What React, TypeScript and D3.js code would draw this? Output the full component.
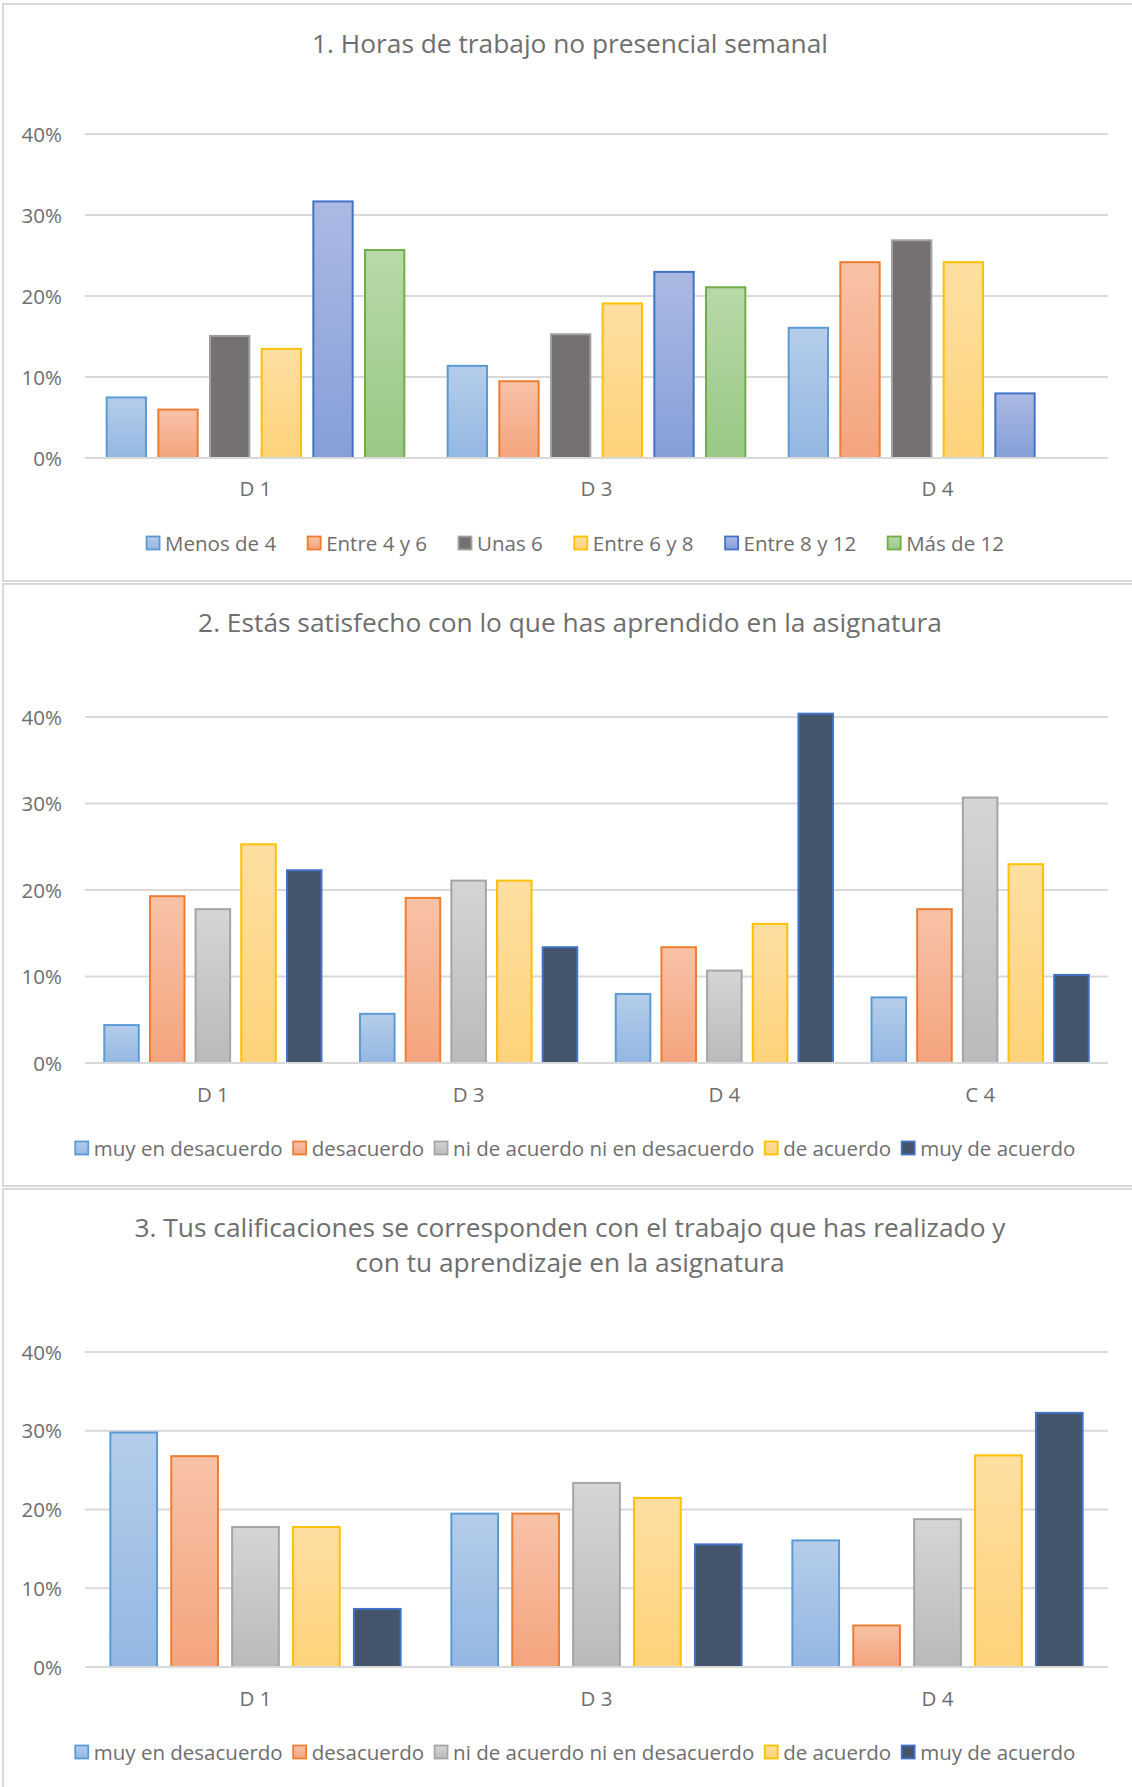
import React, { useEffect, useRef } from 'react';
import * as d3 from 'd3';

// ---------- Data ----------
// Chart 1: Horas de trabajo no presencial semanal
const hoursTitle = ['1. Horas de trabajo no presencial semanal'];
const hoursCategories = ['D 1', 'D 3', 'D 4'];
const hoursSeriesNames = ['Menos de 4', 'Entre 4 y 6', 'Unas 6', 'Entre 6 y 8', 'Entre 8 y 12', 'Más de 12'];
const hoursMenos4 = [7.6, 11.5, 16.2];
const hoursEntre4y6 = [6.1, 9.6, 24.3];
const hoursUnas6 = [15.2, 15.4, 27.0];
const hoursEntre6y8 = [13.6, 19.2, 24.3];
const hoursEntre8y12 = [31.8, 23.1, 8.1];
const hoursMas12: (number | null)[] = [25.8, 21.2, null];

// Chart 2: Satisfacción con lo aprendido
const satisTitle = ['2. Estás satisfecho con lo que has aprendido en la asignatura'];
const satisCategories = ['D 1', 'D 3', 'D 4', 'C 4'];
const agreeSeriesNames = ['muy en desacuerdo', 'desacuerdo', 'ni de acuerdo ni en desacuerdo', 'de acuerdo', 'muy de acuerdo'];
const satisMuyDesacuerdo = [4.5, 5.8, 8.1, 7.7];
const satisDesacuerdo = [19.4, 19.2, 13.5, 17.9];
const satisNi = [17.9, 21.2, 10.8, 30.8];
const satisDeAcuerdo = [25.4, 21.2, 16.2, 23.1];
const satisMuyDeAcuerdo = [22.4, 13.5, 40.5, 10.3];

// Chart 3: Calificaciones
const califTitle = [
  '3. Tus calificaciones se corresponden con el trabajo que has realizado y',
  'con tu aprendizaje en la asignatura',
];
const califCategories = ['D 1', 'D 3', 'D 4'];
const califMuyDesacuerdo = [29.9, 19.6, 16.2];
const califDesacuerdo = [26.9, 19.6, 5.4];
const califNi = [17.9, 23.5, 18.9];
const califDeAcuerdo = [17.9, 21.6, 27.0];
const califMuyDeAcuerdo = [7.5, 15.7, 32.4];

const yTicks = [0, 10, 20, 30, 40];

// ---------- Styles ----------
type Style = { stroke: string; top: string; bottom: string };
const sBlue: Style = { stroke: '#5B9BD5', top: '#b5cdea', bottom: '#93b7e2' };
const sOrange: Style = { stroke: '#ED7D31', top: '#f8c2a7', bottom: '#f4a47e' };
const sDarkGray: Style = { stroke: '#a0a0a0', top: '#767171', bottom: '#767171' };
const sYellow: Style = { stroke: '#FFC000', top: '#fedfa1', bottom: '#fdd27a' };
const sBlue2: Style = { stroke: '#4472C4', top: '#acb9e3', bottom: '#869fd8' };
const sGreen: Style = { stroke: '#70AD47', top: '#b9d8a9', bottom: '#99c883' };
const sLightGray: Style = { stroke: '#a5a5a5', top: '#d5d5d5', bottom: '#bababa' };
const sNavy: Style = { stroke: '#4472C4', top: '#44546A', bottom: '#44546A' };

const FONT = "'Open Sans', Lato, sans-serif";
const TEXT = '#6e6e6e';
const GRID = '#d9d9d9';

type Series = { name: string; values: (number | null)[]; style: Style };
type Panel = {
  top: number;
  bottom: number;
  title: string[];
  titleBaselines: number[];
  categories: string[];
  series: Series[];
  y0: number;
  y40: number;
  catBaseline: number;
  legendY: number;
  legendGap: number;
};

const panels: Panel[] = [
  {
    top: 4,
    bottom: 581,
    title: hoursTitle,
    titleBaselines: [53],
    categories: hoursCategories,
    series: [
      { name: hoursSeriesNames[0], values: hoursMenos4, style: sBlue },
      { name: hoursSeriesNames[1], values: hoursEntre4y6, style: sOrange },
      { name: hoursSeriesNames[2], values: hoursUnas6, style: sDarkGray },
      { name: hoursSeriesNames[3], values: hoursEntre6y8, style: sYellow },
      { name: hoursSeriesNames[4], values: hoursEntre8y12, style: sBlue2 },
      { name: hoursSeriesNames[5], values: hoursMas12, style: sGreen },
    ],
    y0: 458,
    y40: 134,
    catBaseline: 496,
    legendY: 543,
    legendGap: 31,
  },
  {
    top: 584,
    bottom: 1186,
    title: satisTitle,
    titleBaselines: [632],
    categories: satisCategories,
    series: [
      { name: agreeSeriesNames[0], values: satisMuyDesacuerdo, style: sBlue },
      { name: agreeSeriesNames[1], values: satisDesacuerdo, style: sOrange },
      { name: agreeSeriesNames[2], values: satisNi, style: sLightGray },
      { name: agreeSeriesNames[3], values: satisDeAcuerdo, style: sYellow },
      { name: agreeSeriesNames[4], values: satisMuyDeAcuerdo, style: sNavy },
    ],
    y0: 1063,
    y40: 717,
    catBaseline: 1102,
    legendY: 1148,
    legendGap: 10,
  },
  {
    top: 1189,
    bottom: 1800,
    title: califTitle,
    titleBaselines: [1237, 1271.5],
    categories: califCategories,
    series: [
      { name: agreeSeriesNames[0], values: califMuyDesacuerdo, style: sBlue },
      { name: agreeSeriesNames[1], values: califDesacuerdo, style: sOrange },
      { name: agreeSeriesNames[2], values: califNi, style: sLightGray },
      { name: agreeSeriesNames[3], values: califDeAcuerdo, style: sYellow },
      { name: agreeSeriesNames[4], values: califMuyDeAcuerdo, style: sNavy },
    ],
    y0: 1667,
    y40: 1352,
    catBaseline: 1706,
    legendY: 1752,
    legendGap: 10,
  },
];

const W = 1132;
const H = 1787;
const PLOT_LEFT = 85;
const PLOT_RIGHT = 1108;
const TITLE_SIZE = 26.3;
const LABEL_SIZE = 20.5;

function drawPanel(svg: d3.Selection<SVGSVGElement, unknown, null, undefined>, p: Panel, pi: number) {
  const defs = svg.append('defs');
  p.series.forEach((s, si) => {
    const grad = defs
      .append('linearGradient')
      .attr('id', `g${pi}_${si}`)
      .attr('x1', 0)
      .attr('y1', 0)
      .attr('x2', 0)
      .attr('y2', 1);
    grad.append('stop').attr('offset', '0%').attr('stop-color', s.style.top);
    grad.append('stop').attr('offset', '100%').attr('stop-color', s.style.bottom);
  });

  const g = svg.append('g').attr('font-family', FONT);

  g.append('rect')
    .attr('x', 3)
    .attr('y', p.top)
    .attr('width', 1140)
    .attr('height', p.bottom - p.top)
    .attr('fill', '#ffffff')
    .attr('stroke', GRID)
    .attr('stroke-width', 2);

  p.title.forEach((t, i) => {
    g.append('text')
      .attr('x', 570)
      .attr('y', p.titleBaselines[i])
      .attr('text-anchor', 'middle')
      .attr('font-size', TITLE_SIZE)
      .attr('fill', TEXT)
      .text(t);
  });

  const x0 = d3.scaleBand<string>().domain(p.categories).range([PLOT_LEFT, PLOT_RIGHT]).padding(0);
  const x1 = d3
    .scaleBand<string>()
    .domain(p.series.map((s) => s.name))
    .range([0, x0.bandwidth()])
    .paddingInner(0.2)
    .paddingOuter(0.4);
  const y = d3.scaleLinear().domain([0, 40]).range([p.y0, p.y40]);

  g.selectAll('line.grid')
    .data(yTicks.filter((t) => t !== 0))
    .enter()
    .append('line')
    .attr('x1', PLOT_LEFT)
    .attr('x2', PLOT_RIGHT)
    .attr('y1', (d) => y(d))
    .attr('y2', (d) => y(d))
    .attr('stroke', GRID)
    .attr('stroke-width', 2);

  g.selectAll('text.ytick')
    .data(yTicks)
    .enter()
    .append('text')
    .attr('x', 62)
    .attr('y', (d) => y(d) + 7.5)
    .attr('text-anchor', 'end')
    .attr('font-size', LABEL_SIZE)
    .attr('fill', TEXT)
    .text((d) => `${d}%`);

  p.series.forEach((s, si) => {
    p.categories.forEach((c, ci) => {
      const v = s.values[ci];
      if (v === null || v === undefined) return;
      const bx = (x0(c) as number) + (x1(s.name) as number);
      const bw = x1.bandwidth();
      g.append('rect')
        .attr('x', bx + 1)
        .attr('y', y(v) + 1)
        .attr('width', bw - 2)
        .attr('height', Math.max(0, y(0) - y(v) - 1))
        .attr('fill', `url(#g${pi}_${si})`)
        .attr('stroke', s.style.stroke)
        .attr('stroke-width', 2);
    });
  });

  g.append('line')
    .attr('x1', PLOT_LEFT)
    .attr('x2', PLOT_RIGHT)
    .attr('y1', y(0))
    .attr('y2', y(0))
    .attr('stroke', GRID)
    .attr('stroke-width', 2);

  p.categories.forEach((c) => {
    g.append('text')
      .attr('x', (x0(c) as number) + x0.bandwidth() / 2)
      .attr('y', p.catBaseline)
      .attr('text-anchor', 'middle')
      .attr('font-size', LABEL_SIZE)
      .attr('fill', TEXT)
      .text(c);
  });

  // legend
  const lg = g.append('g');
  const SQ = 13;
  const items = p.series.map((s, si) => {
    const it = lg.append('g');
    it.append('rect')
      .attr('x', 0.5)
      .attr('y', p.legendY - SQ / 2)
      .attr('width', SQ)
      .attr('height', SQ)
      .attr('fill', `url(#g${pi}_${si})`)
      .attr('stroke', s.style.stroke)
      .attr('stroke-width', 1.8);
    const t = it
      .append('text')
      .attr('x', SQ + 6)
      .attr('y', p.legendY + 7.5)
      .attr('font-size', LABEL_SIZE)
      .attr('fill', TEXT)
      .text(s.name);
    const tw = (t.node() as SVGTextElement).getComputedTextLength();
    return { it, w: SQ + 6 + tw };
  });
  const total = items.reduce((a, b) => a + b.w, 0) + p.legendGap * (items.length - 1);
  let cx = 575 - total / 2;
  items.forEach((o) => {
    o.it.attr('transform', `translate(${cx},0)`);
    cx += o.w + p.legendGap;
  });
}

export default function App() {
  const ref = useRef<SVGSVGElement | null>(null);
  useEffect(() => {
    if (!ref.current) return;
    const svg = d3.select(ref.current);
    svg.selectAll('*').remove();
    svg.append('rect').attr('width', W).attr('height', H).attr('fill', '#ffffff');
    panels.forEach((p, i) => drawPanel(svg, p, i));
  }, []);
  return (
    <svg
      ref={ref}
      width={W}
      height={H}
      viewBox={`0 0 ${W} ${H}`}
      style={{ position: 'absolute', left: 0, top: 0, display: 'block' }}
    />
  );
}
